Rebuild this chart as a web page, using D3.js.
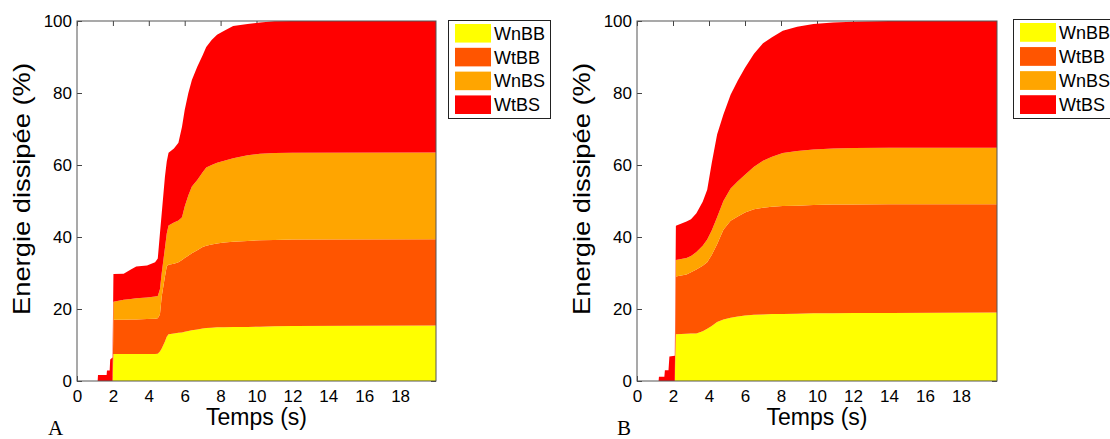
<!DOCTYPE html>
<html>
<head>
<meta charset="utf-8">
<script src="https://cdn.jsdelivr.net/npm/d3@7"></script>
<style>
  html, body { margin: 0; padding: 0; background: #fff; }
  svg { display: block; }
</style>
</head>
<body>
<svg id="chart" width="1110" height="439"></svg>
<script>
// ---------- DATA ----------
const seriesNames = ["WnBB", "WtBB", "WnBS", "WtBS"];
const seriesColors = ["#FFFF00", "#FF5500", "#FFA500", "#FF0000"];
const xTicks = [0, 2, 4, 6, 8, 10, 12, 14, 16, 18];
const yTicks = [0, 20, 40, 60, 80, 100];
const panelLabels = ["A", "B"];
const xLabel = "Temps (s)";
const yLabel = "Energie dissipée (%)";

// Panel A (time in s, energy share in %)
const timeA = [0, 1.15, 1.17, 1.65, 1.67, 1.82, 1.85, 1.98, 2.03, 2.6, 3.0, 3.3, 3.9, 4.35, 4.5, 4.62, 4.72, 4.9, 5.0, 5.1, 5.4, 5.65, 5.85, 6.0, 6.2, 6.4, 6.7, 7.0, 7.2, 7.5, 7.8, 8.2, 8.7, 9.5, 10.2, 11, 12, 20];
const wnbbA = [0, 0, 0, 0, 0, 0, 0, 0, 7.5, 7.5, 7.5, 7.5, 7.5, 7.5, 7.6, 8.2, 9.0, 11.0, 12.3, 13.0, 13.2, 13.4, 13.5, 13.7, 13.9, 14.1, 14.3, 14.6, 14.7, 14.8, 14.9, 14.9, 15.0, 15.0, 15.1, 15.2, 15.3, 15.4];
const wtbbA = [0, 0, 0, 0, 0, 0, 0, 0, 9.5, 9.5, 9.6, 9.6, 9.7, 9.8, 9.8, 10.3, 14.5, 18.0, 19.5, 19.3, 19.4, 19.6, 20.1, 20.5, 20.9, 21.4, 22.0, 22.6, 22.9, 23.1, 23.3, 23.6, 23.7, 23.9, 24.0, 24.0, 24.0, 24.0];
const wnbsA = [0, 0, 0, 0, 0, 0, 0, 0, 5.0, 5.6, 5.7, 5.9, 6.0, 6.2, 6.2, 7.0, 6.5, 8.0, 9.2, 10.9, 11.4, 11.6, 11.9, 14.3, 16.7, 18.5, 19.5, 20.8, 21.7, 22.1, 22.4, 22.7, 23.2, 23.8, 24.0, 24.1, 24.1, 24.1];
const wtbsA = [0, 0, 1.7, 1.7, 2.9, 2.9, 6.0, 6.5, 7.7, 7.2, 8.2, 8.8, 8.9, 9.5, 10.4, 15.5, 16.6, 19.8, 20.0, 20.2, 20.6, 21.6, 25.1, 26.8, 28.4, 29.6, 31.5, 32.5, 33.5, 34.7, 35.6, 36.1, 36.7, 36.5, 36.5, 36.6, 36.6, 36.5];

// Panel B
const timeB = [0, 1.2, 1.22, 1.52, 1.55, 1.75, 1.8, 2.1, 2.16, 2.75, 3.0, 3.3, 3.65, 3.9, 4.15, 4.45, 4.8, 5.2, 5.6, 6.0, 6.5, 7.0, 7.5, 8.1, 8.9, 9.8, 10.9, 12, 14, 20];
const wnbbB = [0, 0, 0, 0, 0, 0, 0, 0, 13.0, 13.1, 13.2, 13.2, 13.8, 14.5, 15.3, 16.4, 17.1, 17.6, 17.9, 18.2, 18.4, 18.5, 18.6, 18.6, 18.7, 18.8, 18.8, 18.9, 18.9, 19.0];
const wtbbB = [0, 0, 0, 0, 0, 0, 0, 0, 16.0, 16.5, 17.0, 17.8, 18.2, 18.5, 19.7, 21.6, 24.9, 26.9, 27.8, 28.6, 29.3, 29.6, 29.8, 30.0, 30.0, 30.1, 30.2, 30.1, 30.2, 30.1];
const wnbsB = [0, 0, 0, 0, 0, 0, 0, 0, 4.6, 4.6, 4.5, 4.8, 5.6, 6.3, 6.8, 7.5, 8.0, 9.0, 9.8, 10.5, 11.8, 13.1, 13.9, 14.7, 15.2, 15.4, 15.6, 15.7, 15.7, 15.7];
const wtbsB = [0, 0, 1.2, 1.2, 3.0, 3.0, 6.8, 7.0, 9.5, 10.1, 10.2, 10.8, 12.2, 13.8, 18.7, 23.0, 24.0, 26.0, 28.0, 29.7, 31.4, 32.6, 33.2, 34.0, 34.5, 34.9, 35.0, 35.1, 35.2, 35.2];

// ---------- DRAWING ----------
const svg = d3.select("#chart");
svg.append("rect").attr("width", 1110).attr("height", 439).attr("fill", "#fff");

const FONT = "'Liberation Sans', Arial, Helvetica, sans-serif";

const panels = [
  { time: timeA, series: [wnbbA, wtbbA, wnbsA, wtbsA], left: 77, right: 436, top: 21, bottom: 381,
    legend: { x: 448, y: 20, w: 102, h: 98 }, label: panelLabels[0], labelX: 48 },
  { time: timeB, series: [wnbbB, wtbbB, wnbsB, wtbsB], left: 637, right: 997, top: 21, bottom: 381,
    legend: { x: 1013, y: 19, w: 97, h: 99 }, label: panelLabels[1], labelX: 617 }
];

panels.forEach(p => {
  const x = d3.scaleLinear().domain([0, 20]).range([p.left, p.right]);
  const y = d3.scaleLinear().domain([0, 100]).range([p.bottom, p.top]);

  const rows = p.time.map((t, i) => {
    const r = { t };
    seriesNames.forEach((n, k) => { r[n] = p.series[k][i]; });
    return r;
  });
  const stacked = d3.stack().keys(seriesNames)(rows);

  const g = svg.append("g");

  // axes (below data, MATLAB style inward ticks)
  const axB = g.append("g").attr("transform", `translate(0,${p.bottom})`)
    .call(d3.axisBottom(x).tickValues(xTicks).tickSizeInner(-5).tickSizeOuter(0).tickPadding(9));
  const axL = g.append("g").attr("transform", `translate(${p.left},0)`)
    .call(d3.axisLeft(y).tickValues(yTicks).tickSizeInner(-5).tickSizeOuter(0).tickPadding(5));
  const axT = g.append("g").attr("transform", `translate(0,${p.top})`)
    .call(d3.axisTop(x).tickValues(xTicks).tickSizeInner(-5).tickSizeOuter(0).tickFormat(""));
  const axR = g.append("g").attr("transform", `translate(${p.right},0)`)
    .call(d3.axisRight(y).tickValues(yTicks).tickSizeInner(-5).tickSizeOuter(0).tickFormat(""));
  [axB, axL, axT, axR].forEach(a => {
    a.select(".domain").remove();
    a.selectAll(".tick line").attr("stroke", "#444");
    a.attr("font-family", FONT).attr("font-size", 17);
    a.selectAll("text").attr("fill", "#000");
  });

  // stacked areas
  const area = d3.area()
    .x(d => x(d.data.t))
    .y0(d => y(d[0]))
    .y1(d => y(d[1]))
    .curve(d3.curveLinear);
  g.selectAll("path.layer").data(stacked).enter().append("path")
    .attr("class", "layer")
    .attr("fill", (d, i) => seriesColors[i])
    .attr("stroke", "none")
    .attr("d", area);

  // box
  g.append("rect")
    .attr("x", p.left).attr("y", p.top)
    .attr("width", p.right - p.left).attr("height", p.bottom - p.top)
    .attr("fill", "none").attr("stroke", "#555").attr("stroke-width", 1);

  // axis labels
  g.append("text")
    .attr("x", (p.left + p.right) / 2).attr("y", 425)
    .attr("text-anchor", "middle")
    .attr("font-family", FONT).attr("font-size", 23)
    .text(xLabel);
  g.append("text")
    .attr("transform", `translate(${p.left - 47},189) rotate(-90)`)
    .attr("text-anchor", "middle")
    .attr("font-family", FONT).attr("font-size", 24)
    .attr("textLength", 252).attr("lengthAdjust", "spacingAndGlyphs")
    .text(yLabel);

  // panel letter
  g.append("text")
    .attr("x", p.labelX).attr("y", 435)
    .attr("font-family", "'Liberation Serif', 'Times New Roman', serif").attr("font-size", 21)
    .text(p.label);

  // legend
  const L = p.legend;
  const lg = g.append("g");
  lg.append("rect").attr("x", L.x + 0.5).attr("y", L.y + 0.5).attr("width", L.w).attr("height", L.h)
    .attr("fill", "#fff").attr("stroke", "#222");
  const rowY = d3.scaleBand().domain(seriesNames).range([L.y + 4, L.y + L.h - 4]).paddingInner(0.22);
  seriesNames.forEach((n, i) => {
    lg.append("rect")
      .attr("x", L.x + 7).attr("y", rowY(n))
      .attr("width", 36).attr("height", rowY.bandwidth())
      .attr("fill", seriesColors[i]);
    lg.append("text")
      .attr("x", L.x + 46).attr("y", rowY(n) + rowY.bandwidth() / 2)
      .attr("dy", "0.36em")
      .attr("font-family", FONT).attr("font-size", 18)
      .text(n);
  });
});
</script>
</body>
</html>
